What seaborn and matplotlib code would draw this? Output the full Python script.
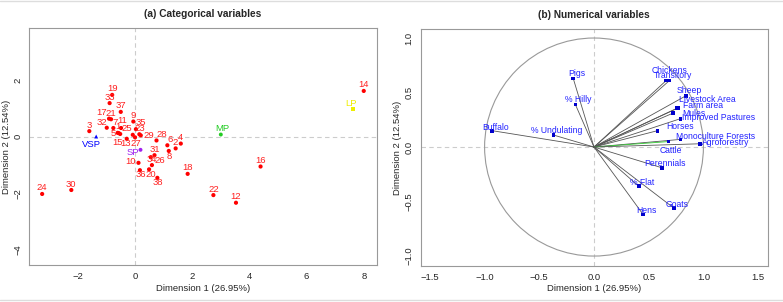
import matplotlib
matplotlib.use("Agg")
import matplotlib.pyplot as plt
import seaborn as sns
import pandas as pd
from matplotlib.patches import Circle
from matplotlib.lines import Line2D

# ---- panel (a): individuals + categories ----
ind_names = [str(i) for i in range(1, 39)]
ind_dim1 = [-0.61, 1.42, -1.60, 1.60, -0.52, 1.13, -0.76, 1.18, -0.06, 0.12,
            -0.49, 3.53, -0.29, 8.00, -0.57, 4.39, -0.91, 1.84, -0.80, 0.49,
            -0.84, 2.74, 0.15, -3.25, -0.08, 0.55, 0.00, 0.75, 0.20, -2.23,
            0.68, -0.99, -0.89, 0.59, 0.03, 0.17, -0.50, 0.78]
ind_dim2 = [0.14, -0.41, 0.20, -0.24, 0.10, -0.30, 0.31, -0.50, 0.54, -0.92,
            0.31, -2.33, -0.07, 1.62, 0.13, -1.05, 0.64, -1.31, 1.48, -1.15,
            0.62, -2.06, 0.09, -2.02, 0.07, -0.72, -0.02, -0.13, 0.05, -1.88,
            -0.65, 0.32, 1.19, -1.00, 0.27, -1.18, 0.88, -1.45]

cat_names = ["VSP", "SP", "MP", "LP"]
cat_dim1 = [-1.36, 0.19, 3.00, 7.62]
cat_dim2 = [0.01, -0.46, 0.08, 0.98]

# ---- panel (b): variables ----
var_names = ["Pigs", "% Hilly", "Buffalo", "% Undulating", "Chickens", "Transitory",
             "Sheep", "Livestock Area", "Farm area", "Mules", "Improved Pastures",
             "Horses", "Monoculture Forests", "Cattle", "Agroforestry", "Perennials",
             "% Flat", "Goats", "Hens"]
var_dim1 = [-0.19, -0.17, -0.93, -0.37, 0.66, 0.69, 0.84, 0.76, 0.77, 0.72, 0.79,
            0.58, 0.79, 0.68, 0.97, 0.62, 0.41, 0.73, 0.45]
var_dim2 = [0.63, 0.39, 0.15, 0.11, 0.61, 0.61, 0.47, 0.355, 0.36, 0.31, 0.26,
            0.15, 0.07, 0.05, 0.03, -0.19, -0.36, -0.56, -0.62]

ind = pd.DataFrame({"name": ind_names, "d1": ind_dim1, "d2": ind_dim2})
cat = pd.DataFrame({"name": cat_names, "d1": cat_dim1, "d2": cat_dim2})
var = pd.DataFrame({"name": var_names, "d1": var_dim1, "d2": var_dim2})

# label offsets in pixels (dx, dy up)
ind_off = {"5": (-7, 0), "15": (-1, -9), "13": (-1, -5), "27": (1, -6), "29": (8, 0),
           "10": (-8, 1), "36": (1, -4), "20": (2, -5), "38": (0, -5), "26": (9, -3),
           "8": (0, -6), "35": (5, 7), "25": (-6, 6), "6": (3, 6), "17": (-7, 6),
           "32": (-5, 5), "11": (1, 8), "7": (2, 6), "28": (5, 6)}
cat_off = {"VSP": (-5, -8), "SP": (-8, -3), "MP": (1, 6), "LP": (-2, 6)}
cat_col = {"VSP": "#0000FF", "SP": "#A020F0", "MP": "#22CC22", "LP": "#EEEE00"}
cat_mark = {"VSP": "^", "SP": "o", "MP": "o", "LP": "s"}
var_off = {"Pigs": (4, 5.3), "% Hilly": (3.3, 5), "Buffalo": (3, 3.5),
           "% Undulating": (3.3, 4.7), "Chickens": (3.3, 9.7), "Transitory": (3.3, 4.7),
           "Sheep": (3.7, 5), "Livestock Area": (30, 9.3), "Farm area": (24.7, 2),
           "Mules": (21, 0), "Improved Pastures": (38, 0.7), "Horses": (23, 4),
           "Monoculture Forests": (35, 3.3), "Agroforestry": (26, 1), "Cattle": (2.3, -9),
           "Perennials": (3.3, 4), "% Flat": (3, 4), "Goats": (3.3, 4), "Hens": (3.3, 3.7)}

sns.set_style("white")
plt.rcParams["font.family"] = ["Liberation Sans", "DejaVu Sans"]
fs = 6.8

fig = plt.figure(figsize=(7.83, 3.02), dpi=100)
ax1 = fig.add_axes([0.0374, 0.1225, 0.4436, 0.7835])
ax2 = fig.add_axes([0.5373, 0.120, 0.4432, 0.783])


def style_axes(ax, title):
    for s in ax.spines.values():
        s.set_color("#999999")
        s.set_linewidth(0.8)
    ax.tick_params(axis="both", which="both", direction="out", length=3,
                   width=0.6, color="#777777", labelsize=fs, pad=2)
    for lab in ax.get_yticklabels():
        lab.set_rotation(90)
        lab.set_va("center")
    ax.axhline(0, color="#cccccc", lw=0.8, ls=(0, (4, 3)), zorder=0)
    ax.axvline(0, color="#cccccc", lw=0.8, ls=(0, (4, 3)), zorder=0)
    ax.set_xlabel("Dimension 1 (26.95%)", fontsize=fs, labelpad=2)
    ax.set_ylabel("Dimension 2 (12.54%)", fontsize=fs, labelpad=2)
    ax.set_title(title, fontsize=7.3, fontweight="bold", pad=8)


# panel (a)
sns.scatterplot(data=ind, x="d1", y="d2", ax=ax1, color="red", s=9,
                edgecolor="none", legend=False, zorder=3)
for _, r in ind.iterrows():
    dx, dy = ind_off.get(r["name"], (0, 6))
    ax1.annotate(r["name"], (r["d1"], r["d2"]), xytext=(dx, dy),
                 textcoords="offset pixels", ha="center", va="center",
                 fontsize=6.8, color="#FF2020")
for _, r in cat.iterrows():
    ax1.scatter(r["d1"], r["d2"], color=cat_col[r["name"]], marker=cat_mark[r["name"]],
                s=8, edgecolor="none", zorder=3)
    dx, dy = cat_off[r["name"]]
    ax1.annotate(r["name"], (r["d1"], r["d2"]), xytext=(dx, dy),
                 textcoords="offset pixels", ha="center", va="center",
                 fontsize=6.8, color=cat_col[r["name"]])
ax1.set_xlim(-3.7, 8.45)
ax1.set_ylim(-4.53, 3.83)
ax1.set_xticks([-2, 0, 2, 4, 6, 8])
ax1.set_yticks([-4, -2, 0, 2])
style_axes(ax1, "(a) Categorical variables")

# panel (b)
ax2.add_patch(Circle((0, 0), 1, fill=False, color="#999999", lw=0.8))
for _, r in var.iterrows():
    lc = "#33cc33" if r["name"] == "Cattle" else "#555555"
    ax2.plot([0, r["d1"]], [0, r["d2"]], color=lc, lw=0.6, zorder=2)
sns.scatterplot(data=var, x="d1", y="d2", ax=ax2, color="#0000CC", marker="s",
                s=7, edgecolor="none", legend=False, zorder=3)
for _, r in var.iterrows():
    dx, dy = var_off[r["name"]]
    ax2.annotate(r["name"], (r["d1"], r["d2"]), xytext=(dx, dy),
                 textcoords="offset pixels", ha="center", va="center",
                 fontsize=6.2, color="#2222FF")
ax2.set_xlim(-1.584, 1.588)
ax2.set_ylim(-1.089, 1.08)
ax2.set_xticks([-1.5, -1.0, -0.5, 0.0, 0.5, 1.0, 1.5])
ax2.set_yticks([-1.0, -0.5, 0.0, 0.5, 1.0])
ax2.set_xticklabels(["\u22121.5", "\u22121.0", "\u22120.5", "0.0", "0.5", "1.0", "1.5"])
ax2.set_yticklabels(["\u22121.0", "\u22120.5", "0.0", "0.5", "1.0"])
style_axes(ax2, "(b) Numerical variables")

# thin frame lines of the original images
fig.add_artist(Line2D([0, 1], [0.997, 0.997], color="#dddddd", lw=1))
fig.add_artist(Line2D([0, 1], [0.006, 0.006], color="#dddddd", lw=1))

fig.savefig("out.png", dpi=100)
